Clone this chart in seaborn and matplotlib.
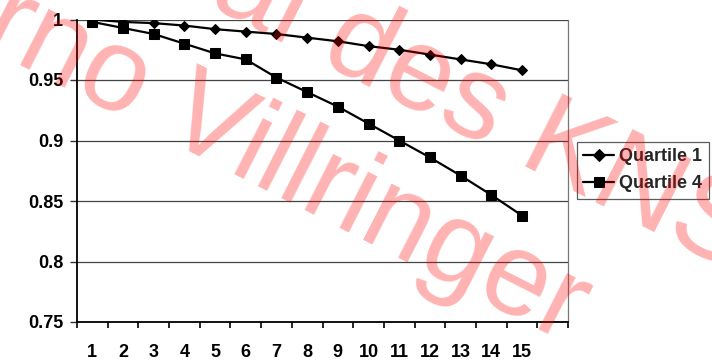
import matplotlib
matplotlib.use("Agg")
import matplotlib.pyplot as plt
import seaborn as sns
import pandas as pd
import numpy as np

# ---- data ----
years = list(range(1, 16))
quartile1 = [1.000, 0.998, 0.997, 0.995, 0.992, 0.990, 0.988, 0.985, 0.982,
             0.978, 0.975, 0.971, 0.967, 0.963, 0.958]
quartile4 = [0.998, 0.993, 0.988, 0.980, 0.972, 0.967, 0.952, 0.940, 0.928,
             0.914, 0.900, 0.886, 0.871, 0.855, 0.838]
series_names = ["Quartile 1", "Quartile 4"]
y_ticks = [0.75, 0.80, 0.85, 0.90, 0.95, 1.00]
y_tick_labels = ["0.75", "0.8", "0.85", "0.9", "0.95", "1"]
watermark_lines = ["al des KNS", "Arno Villringer"]

df = pd.DataFrame({
    "year": years * 2,
    "value": quartile1 + quartile4,
    "series": [series_names[0]] * len(years) + [series_names[1]] * len(years),
})

sns.set_theme(style="white")
plt.rcParams["font.family"] = ["Liberation Sans", "DejaVu Sans"]

W, H = 712, 363
fig = plt.figure(figsize=(W / 100, H / 100), dpi=100)
ax = fig.add_axes([77 / W, 1 - 322 / H, (568 - 77) / W, (322 - 19.5) / H])

sns.lineplot(data=df, x="year", y="value", hue="series", style="series",
             markers=["D", "s"], dashes=False, palette=["black", "black"],
             markersize=6.5, linewidth=1.6, markeredgecolor="black", ax=ax,
             legend=True)
for line, ms in zip(ax.get_lines()[:2], [5.5, 7.0]):
    line.set_markersize(ms)

ax.set_xlim(0.5, 16.5)
ax.set_ylim(0.75, 1.0)
ax.set_xlabel("")
ax.set_ylabel("")

ax.set_yticks(y_ticks)
ax.set_yticklabels(y_tick_labels, fontsize=13, fontweight="bold")
ax.set_xticks(years)
ax.set_xticklabels([str(y) for y in years], fontsize=13, fontweight="bold")
ax.set_xticks(np.arange(0.5, 17.0, 1.0), minor=True)
ax.tick_params(axis="x", which="major", length=0, pad=16, colors="black")
ax.tick_params(axis="x", which="minor", length=4, width=1.2, direction="out",
               color="black", bottom=True)
ax.tick_params(axis="y", which="major", length=5, width=1.0, direction="out",
               color="#333333", pad=5, left=True, labelcolor="black")

ax.yaxis.grid(True, color="#444444", linewidth=0.9)
ax.xaxis.grid(False)
ax.set_axisbelow(True)
ax.spines["top"].set_visible(False)
ax.spines["right"].set_color("#777777")
ax.spines["right"].set_linewidth(0.9)
ax.spines["left"].set_color("black")
ax.spines["left"].set_linewidth(1.3)
ax.spines["bottom"].set_color("black")
ax.spines["bottom"].set_linewidth(1.3)

# legend outside right
handles, labels = ax.get_legend_handles_labels()
ax.legend_.remove()
leg = fig.legend(handles, labels, loc="upper left",
                 bbox_to_anchor=(577 / W, 1 - 142 / H),
                 prop={"weight": "bold", "size": 13, "family": "Liberation Sans"},
                 frameon=True, fancybox=False, borderpad=0.35,
                 handlelength=1.7, handletextpad=0.3, labelspacing=0.55,
                 borderaxespad=0)
leg.get_frame().set_edgecolor("#333333")
leg.get_frame().set_linewidth(0.9)

# watermark
angle = -27
fs = 85
wm_color = (1.0, 0.0, 0.0, 0.3)
fig.text(206 / W, 1 - 4 / H, watermark_lines[0], rotation=angle,
         rotation_mode="anchor", ha="left", va="baseline", fontsize=fs,
         color=wm_color, family="Liberation Sans", zorder=10)
fig.text(-93 / W, 1 - 8 / H, watermark_lines[1], rotation=angle,
         rotation_mode="anchor", ha="left", va="baseline", fontsize=fs,
         color=wm_color, family="Liberation Sans", zorder=10)

fig.savefig("out.png", dpi=100)
